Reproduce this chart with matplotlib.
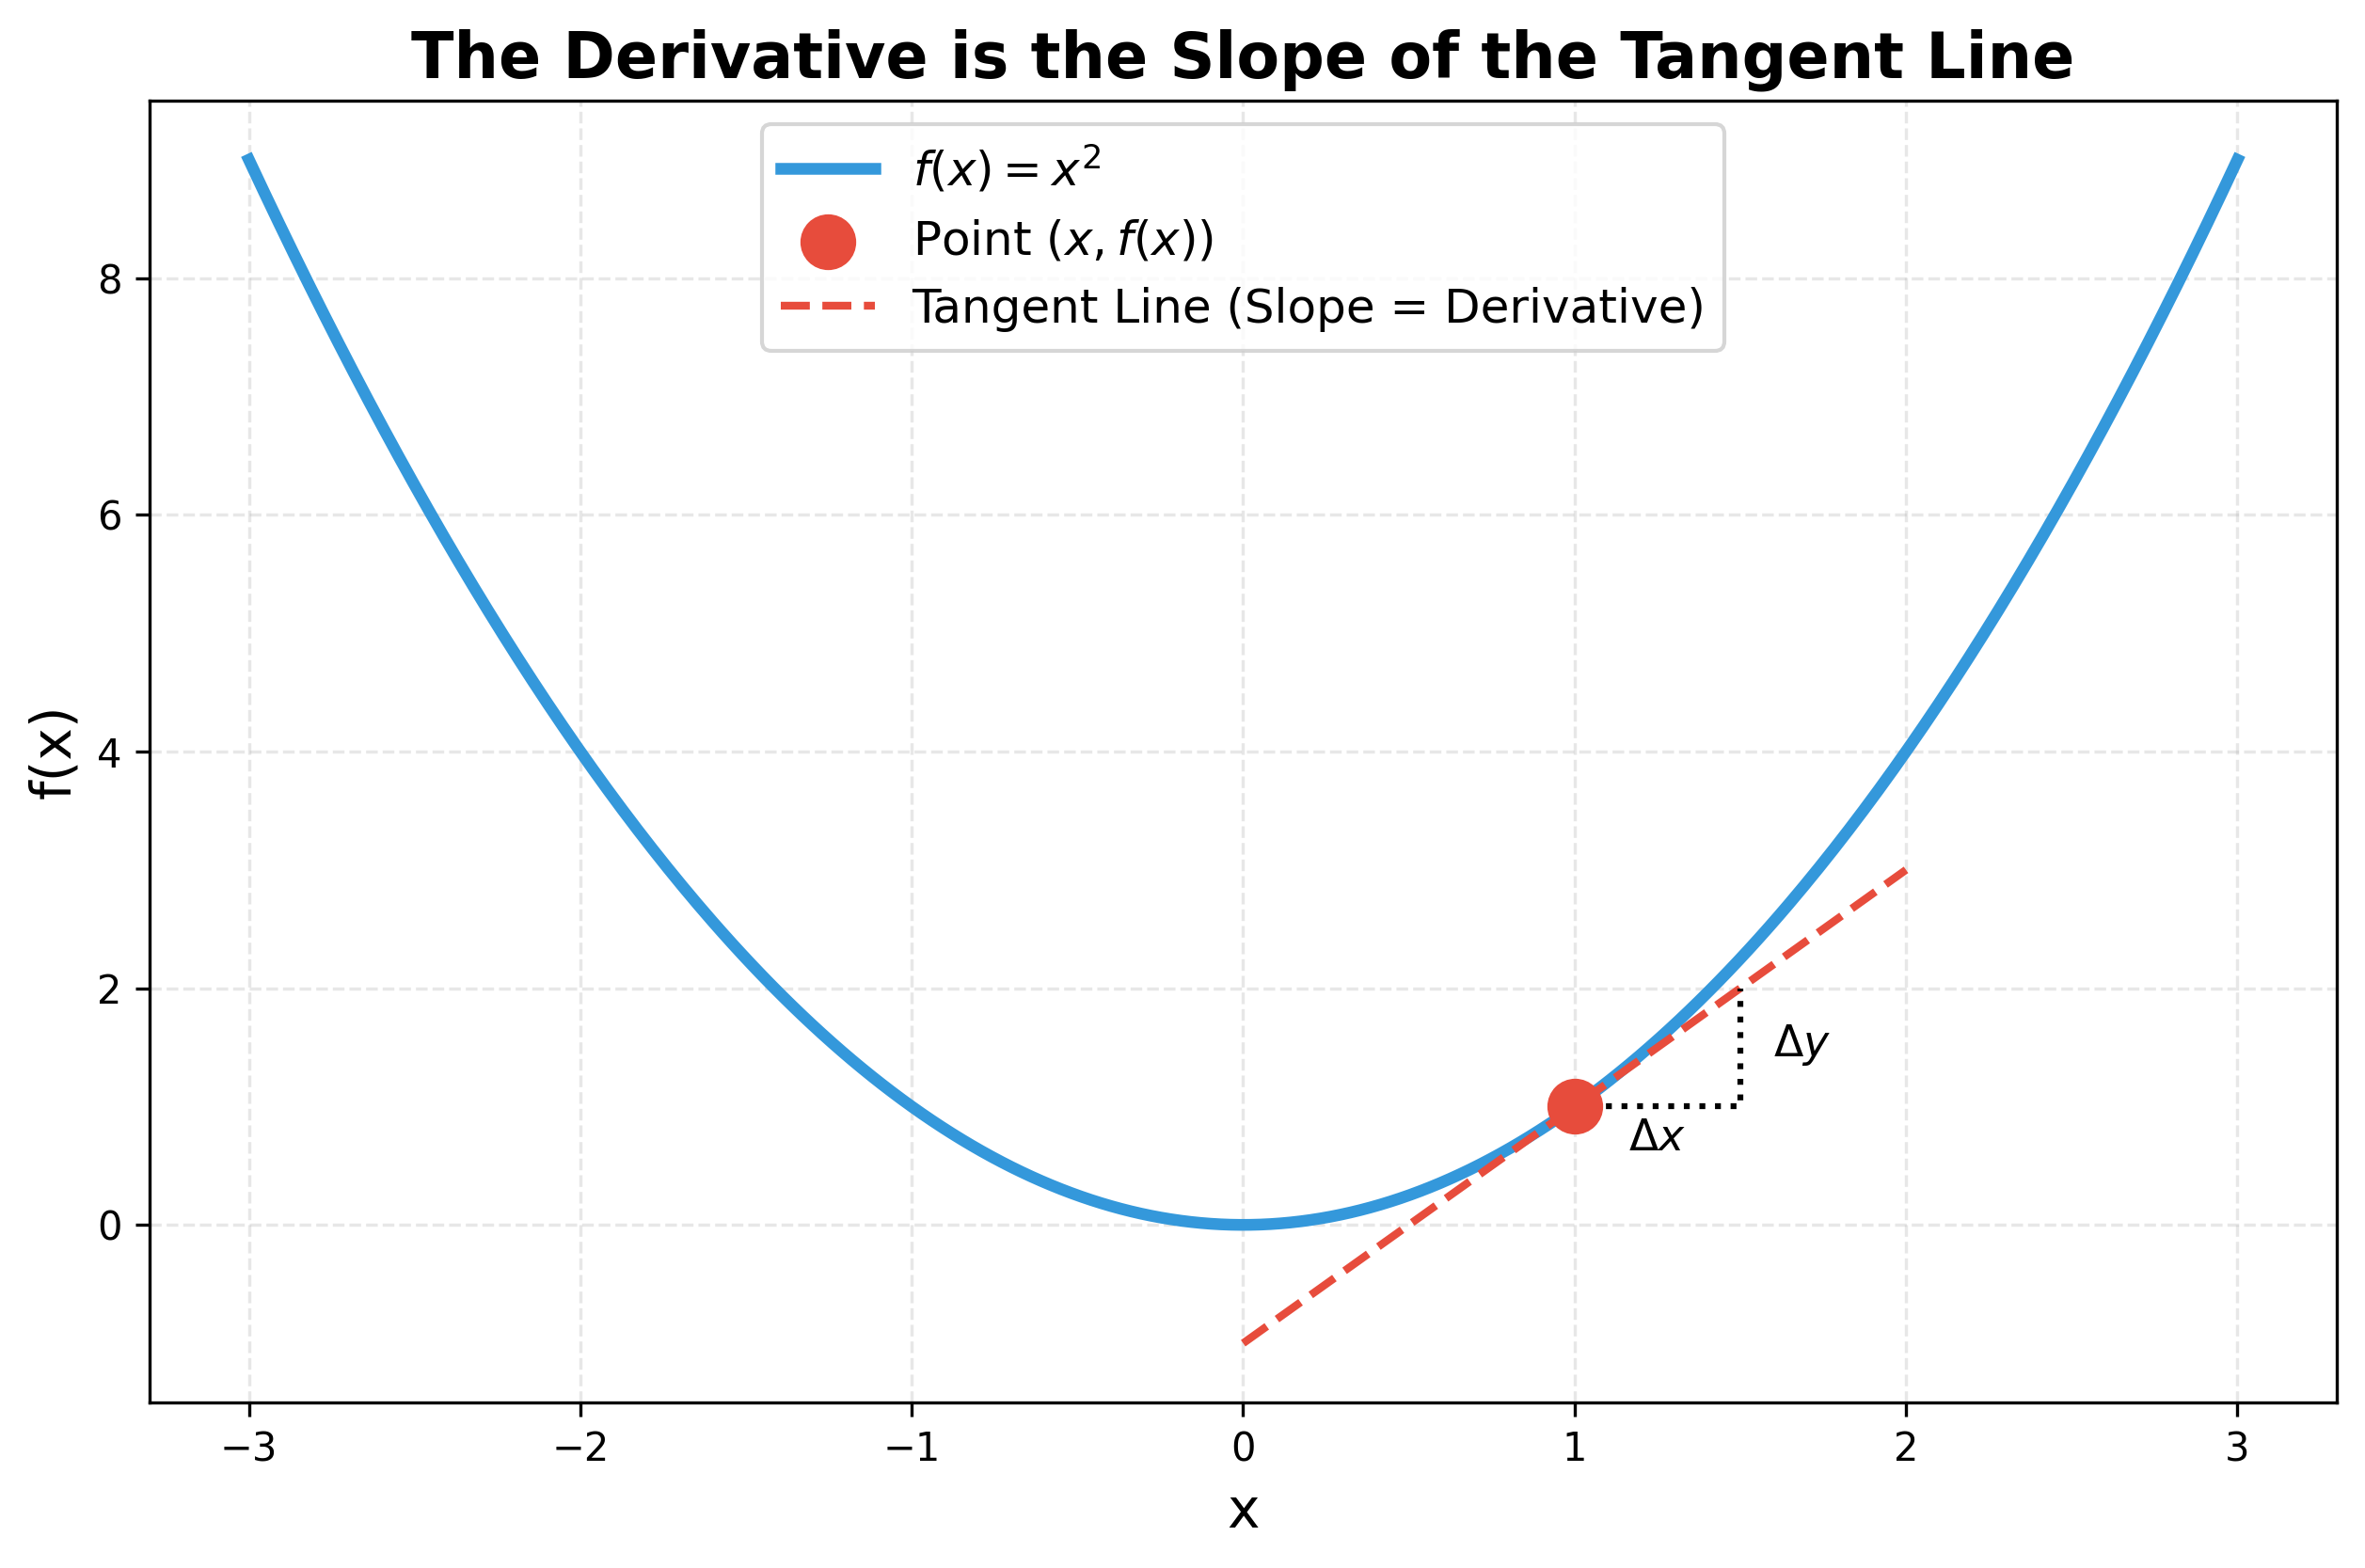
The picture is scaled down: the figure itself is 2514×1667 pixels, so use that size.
import numpy as np
import matplotlib.pyplot as plt

# curve f(x) = x^2 and tangent at x0 = 1
x = np.linspace(-3, 3, 400)
y = x ** 2
x0 = 1
y0 = x0 ** 2
slope = 2 * x0
tan_x = np.array([0, 2])
tan_y = y0 + slope * (tan_x - x0)

# slope triangle
dx = 0.5
tri_x = [x0, x0 + dx, x0 + dx]
tri_y = [y0, y0, y0 + slope * dx]

fig, ax = plt.subplots(figsize=(8.38, 5.557), dpi=300)

ax.plot(x, y, color='#3498db', lw=3, label=r'$f(x) = x^2$')
ax.scatter([x0], [y0], color='#e74c3c', s=175, zorder=5, label=r'Point $(x, f(x))$')
ax.plot(tan_x, tan_y, color='#e74c3c', ls='--', lw=2, label='Tangent Line (Slope = Derivative)')
ax.plot(tri_x, tri_y, color='black', ls=':', lw=1.5)
ax.text(x0 + 0.25, y0 - 0.27, r'$\Delta x$', fontsize=11, ha='center', va='center')
ax.text(x0 + dx + 0.1, y0 + 0.52, r'$\Delta y$', fontsize=11, ha='left', va='center')

ax.set_title('The Derivative is the Slope of the Tangent Line', fontsize=16, fontweight='bold')
ax.set_xlabel('x', fontsize=14)
ax.set_ylabel('f(x)', fontsize=14)
ax.grid(True, ls='--', alpha=0.3)
ax.legend(loc='upper center', fontsize=12)

plt.subplots_adjust(left=0.0632, right=0.9881, top=0.9358, bottom=0.1056)
plt.savefig('out.png', dpi=300)
